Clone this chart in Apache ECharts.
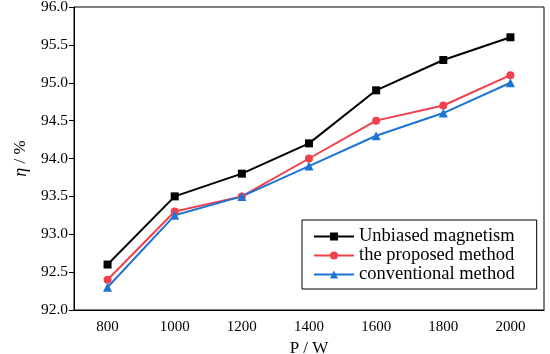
<!DOCTYPE html>
<html><head><meta charset="utf-8">
<script src="https://cdn.jsdelivr.net/npm/echarts@6/dist/echarts.min.js"></script>
<style>html,body{margin:0;padding:0;background:#fff}#c{width:550px;height:354px}</style>
</head><body><div id="c"></div>
<script>
const categories = ['800','1000','1200','1400','1600','1800','2000'];
const unbiased = [92.6, 93.5, 93.8, 94.2, 94.9, 95.3, 95.6];
const proposed = [92.4, 93.3, 93.5, 94.0, 94.5, 94.7, 95.1];
const conventional = [92.3, 93.25, 93.5, 93.9, 94.3, 94.6, 95.0];
const yTicks = ['92.0','92.5','93.0','93.5','94.0','94.5','95.0','95.5','96.0'];

const font = 'Liberation Serif';
const chart = echarts.init(document.getElementById('c'), null, {renderer:'canvas'});
chart.setOption({
  animation:false,
  backgroundColor:'#fff',
  textStyle:{fontFamily:font},
  grid:{left:74,right:6,top:7,bottom:44,containLabel:false,outerBoundsMode:'none',
    show:true,borderColor:'#000',borderWidth:1},
  legend:{
    orient:'vertical', left:302, top:220,
    backgroundColor:'#fff', borderColor:'#000', borderWidth:1,
    padding:[7,22,5,11], itemGap:0, itemWidth:40, itemHeight:10,
    textStyle:{fontFamily:font,fontSize:18.5,lineHeight:18,color:'#000'},
    data:['Unbiased magnetism','the proposed method','conventional method']
  },
  xAxis:{
    type:'category', data:categories, boundaryGap:true,
    name:'P / W', nameLocation:'middle', nameGap:26,
    nameTextStyle:{fontFamily:font,fontSize:17,color:'#000'},
    axisLine:{lineStyle:{color:'#000',width:1}},
    axisTick:{alignWithLabel:true,inside:true,length:6,lineStyle:{color:'#000'}},
    axisLabel:{fontFamily:font,fontSize:15,color:'#000',margin:10}
  },
  yAxis:{
    type:'value', min:92, max:96, interval:0.5,
    name:'{i|η} / %', nameLocation:'middle', nameGap:29,
    nameTextStyle:{fontFamily:font,fontSize:17,color:'#000',
      rich:{i:{fontFamily:font,fontStyle:'italic',fontSize:18,color:'#000'}}},
    axisLine:{show:true,lineStyle:{color:'#000',width:1}},
    axisTick:{show:true,length:5,lineStyle:{color:'#000'}},
    splitLine:{show:false},
    axisLabel:{fontFamily:font,fontSize:15.5,color:'#000',margin:6,
      formatter:(v)=>yTicks[Math.round((v-92)*2)]}
  },
  series:[
    {name:'Unbiased magnetism',type:'line',data:unbiased,symbol:'rect',symbolSize:8,
      lineStyle:{color:'#000',width:2},itemStyle:{color:'#000'}},
    {name:'the proposed method',type:'line',data:proposed,symbol:'circle',symbolSize:8,
      lineStyle:{color:'#f0404a',width:2},itemStyle:{color:'#f0404a'}},
    {name:'conventional method',type:'line',data:conventional,symbol:'triangle',symbolSize:9,
      lineStyle:{color:'#1c74d4',width:2},itemStyle:{color:'#1c74d4'}}
  ]
});
</script></body></html>
